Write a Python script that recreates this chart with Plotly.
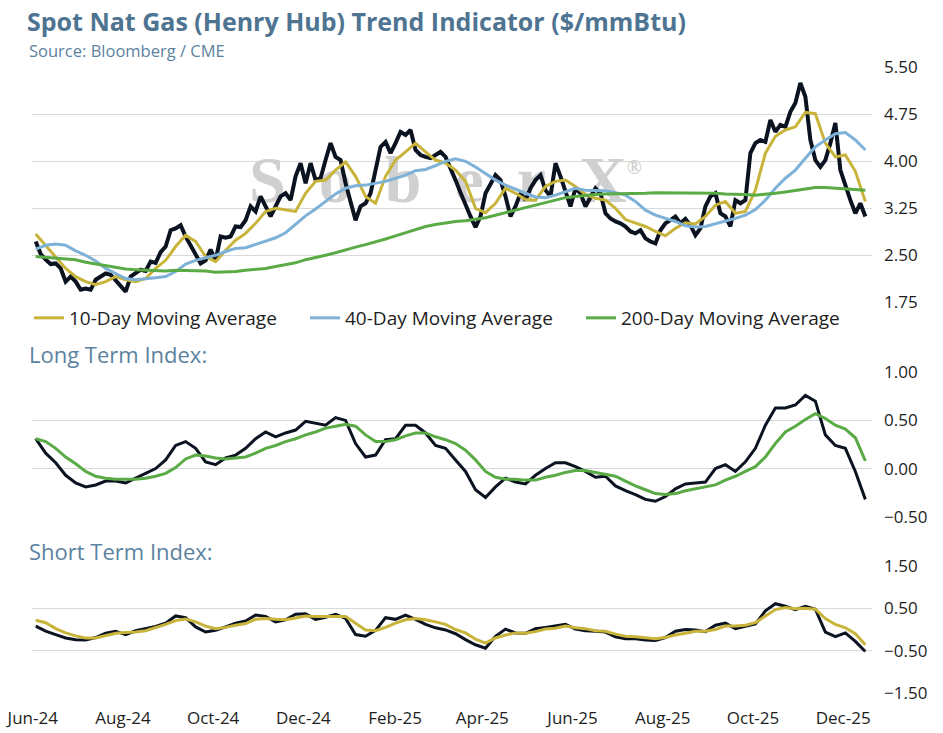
import plotly.graph_objects as go
import pandas as pd

# spot price (about every 3.4 days)
price = [
    2.72, 2.52, 2.43, 2.36, 2.37, 2.29, 2.08, 2.16, 2.08, 1.95, 1.97, 1.95, 2.11, 2.16, 2.21, 2.19, 2.10, 1.99, 1.92, 2.16,
    2.21, 2.27, 2.25, 2.40, 2.38, 2.55, 2.64, 2.90, 2.93, 2.98, 2.80, 2.66, 2.50, 2.37, 2.42, 2.59, 2.42, 2.80, 2.78, 2.80,
    2.96, 2.95,
    3.06, 3.28, 3.20, 3.44, 3.28, 3.12, 3.28, 3.44, 3.49, 3.38, 3.76, 3.97, 3.65, 3.97, 3.70, 3.73, 4.02, 4.29, 4.07, 4.02,
    3.65, 3.33, 3.06, 3.28, 3.33, 3.49, 3.86, 4.23, 4.31, 4.13, 4.29, 4.47, 4.42, 4.50, 4.18, 4.10, 4.07, 4.05, 4.10, 4.15,
    4.07, 3.90, 3.70, 3.50,
    3.30, 3.12, 2.95, 3.12, 3.49, 3.65, 3.78, 3.70, 3.44, 3.12, 3.28, 3.49, 3.38, 3.57, 3.70, 3.78, 3.54, 3.44, 3.97, 3.76,
    3.52, 3.28, 3.57, 3.49, 3.28, 3.44, 3.57, 3.49, 3.17, 3.09, 3.04, 3.01, 2.96, 2.88, 2.85, 2.90, 2.77, 2.72, 2.69, 2.90,
    3.01, 3.06, 3.12, 3.01,
    3.08, 2.98, 2.82, 2.93, 3.28, 3.44, 3.49, 3.17, 3.12, 2.96, 3.38, 3.33, 3.38, 4.13, 4.29, 4.34, 4.31, 4.66, 4.47, 4.58,
    4.55, 4.79, 4.93, 5.25, 5.03, 4.34, 4.02, 3.91, 4.02, 4.29, 4.61, 3.86, 3.60, 3.38, 3.17, 3.33, 3.12,
]

# moving averages and indices (about weekly)
ma10 = [
    2.84, 2.66, 2.48, 2.29, 2.16, 2.08, 2.03, 2.08, 2.16, 2.11, 2.08, 2.13, 2.29, 2.42, 2.64, 2.82, 2.72, 2.48, 2.40, 2.58, 2.74,
    2.85, 3.01, 3.20, 3.25, 3.22, 3.20, 3.49, 3.68, 3.70, 3.86, 3.99, 3.76, 3.44, 3.33, 3.76, 4.02, 4.15, 4.29, 4.15, 4.02, 3.97, 3.86,
    3.68, 3.25, 3.18, 3.33, 3.57, 3.49, 3.39, 3.38, 3.60, 3.68, 3.70, 3.60, 3.47, 3.41, 3.38, 3.25, 3.07, 3.01, 2.96, 2.88, 2.81, 2.93,
    3.02, 3.00, 3.12, 3.30, 3.36, 3.17, 3.20, 3.54, 4.13, 4.40, 4.50, 4.55, 4.78, 4.76, 4.29, 4.07, 4.10, 3.84, 3.36,
]
ma40 = [
    2.60, 2.66, 2.68, 2.66, 2.57, 2.50, 2.41, 2.29, 2.21, 2.13, 2.11, 2.12, 2.14, 2.16, 2.24, 2.36, 2.42, 2.46, 2.50, 2.56, 2.61,
    2.62, 2.67, 2.72, 2.78, 2.86, 3.00, 3.13, 3.24, 3.36, 3.48, 3.57, 3.61, 3.62, 3.65, 3.68, 3.73, 3.78, 3.85, 3.87, 3.93, 4.00, 4.04,
    4.00, 3.91, 3.81, 3.70, 3.62, 3.55, 3.49, 3.43, 3.42, 3.46, 3.52, 3.57, 3.54, 3.53, 3.53, 3.50, 3.46, 3.36, 3.22, 3.14, 3.09, 3.04,
    2.97, 2.95, 2.96, 3.00, 3.04, 3.09, 3.14, 3.23, 3.38, 3.57, 3.73, 3.86, 4.05, 4.23, 4.34, 4.44, 4.46, 4.34, 4.18,
]
ma200 = [
    2.48, 2.47, 2.46, 2.45, 2.43, 2.39, 2.36, 2.34, 2.31, 2.28, 2.27, 2.26, 2.26, 2.25, 2.26, 2.26, 2.25, 2.25, 2.23, 2.23, 2.24,
    2.26, 2.27, 2.29, 2.32, 2.35, 2.38, 2.43, 2.46, 2.50, 2.54, 2.59, 2.63, 2.67, 2.71, 2.76, 2.81, 2.86, 2.91, 2.96, 2.99, 3.02, 3.04,
    3.05, 3.07, 3.10, 3.14, 3.18, 3.22, 3.27, 3.31, 3.35, 3.39, 3.42, 3.44, 3.46, 3.47, 3.48, 3.48, 3.49, 3.49, 3.49, 3.50, 3.50, 3.50,
    3.50, 3.50, 3.49, 3.49, 3.48, 3.48, 3.47, 3.46, 3.47, 3.49, 3.51, 3.53, 3.56, 3.58, 3.58, 3.57, 3.56, 3.55, 3.54,
]
long_idx = [
    0.31, 0.16, 0.06, -0.07, -0.15, -0.19, -0.17, -0.13, -0.13, -0.15, -0.10, -0.05, 0.00, 0.09, 0.24, 0.28, 0.21, 0.07, 0.04, 0.11,
    0.14, 0.21, 0.31, 0.38, 0.33, 0.37, 0.40, 0.49, 0.47, 0.45, 0.53, 0.50, 0.26, 0.12, 0.14, 0.30, 0.31, 0.45, 0.45, 0.37, 0.24, 0.21,
    0.09, -0.03, -0.22, -0.30, -0.19, -0.10, -0.14, -0.16, -0.07, 0.00, 0.06, 0.06, 0.02, -0.03, -0.09, -0.08, -0.18, -0.23, -0.27, -0.32,
    -0.34, -0.29, -0.21, -0.16, -0.15, -0.14, 0.00, 0.04, -0.03, 0.07, 0.21, 0.45, 0.63, 0.63, 0.66, 0.76, 0.70, 0.35, 0.24, 0.21, -0.03, -0.32,
]
long_sig = [
    0.31, 0.28, 0.21, 0.12, 0.05, -0.03, -0.08, -0.10, -0.11, -0.11, -0.11, -0.10, -0.08, -0.05, 0.01, 0.10, 0.14, 0.13, 0.11, 0.10,
    0.11, 0.12, 0.16, 0.21, 0.24, 0.28, 0.31, 0.35, 0.38, 0.42, 0.44, 0.46, 0.44, 0.35, 0.28, 0.28, 0.30, 0.34, 0.37, 0.37, 0.33, 0.30,
    0.26, 0.19, 0.09, -0.03, -0.09, -0.11, -0.11, -0.12, -0.12, -0.09, -0.07, -0.04, -0.02, -0.02, -0.04, -0.06, -0.08, -0.13, -0.18, -0.22,
    -0.26, -0.27, -0.26, -0.23, -0.21, -0.19, -0.17, -0.12, -0.08, -0.03, 0.02, 0.12, 0.26, 0.38, 0.44, 0.51, 0.57, 0.52, 0.45, 0.41, 0.32, 0.08,
]
short_idx = [
    0.08, -0.04, -0.12, -0.20, -0.24, -0.25, -0.19, -0.09, -0.04, -0.12, -0.03, 0.02, 0.07, 0.15, 0.32, 0.28, 0.06, -0.06, -0.02, 0.06,
    0.15, 0.20, 0.34, 0.31, 0.18, 0.23, 0.36, 0.37, 0.24, 0.29, 0.36, 0.26, -0.12, -0.16, -0.02, 0.28, 0.24, 0.34, 0.24, 0.12, 0.04, -0.01,
    -0.10, -0.24, -0.36, -0.44, -0.16, 0.01, -0.08, -0.09, 0.02, 0.05, 0.08, 0.12, 0.01, -0.03, -0.04, -0.06, -0.17, -0.22, -0.22, -0.25,
    -0.26, -0.19, -0.04, 0.00, -0.01, -0.05, 0.10, 0.15, 0.02, 0.08, 0.13, 0.44, 0.61, 0.55, 0.47, 0.55, 0.48, -0.06, -0.17, -0.08, -0.28, -0.52,
]
short_sig = [
    0.22, 0.16, 0.02, -0.08, -0.15, -0.20, -0.20, -0.14, -0.09, -0.07, -0.06, -0.03, 0.04, 0.12, 0.21, 0.25, 0.18, 0.08, 0.02, 0.05,
    0.10, 0.14, 0.24, 0.26, 0.24, 0.23, 0.27, 0.32, 0.31, 0.31, 0.32, 0.31, 0.15, -0.01, -0.03, 0.05, 0.15, 0.23, 0.26, 0.23, 0.18, 0.12,
    0.00, -0.08, -0.23, -0.32, -0.20, -0.13, -0.08, -0.09, -0.05, 0.01, 0.03, 0.08, 0.04, 0.02, -0.03, -0.04, -0.11, -0.16, -0.17, -0.20,
    -0.22, -0.19, -0.13, -0.09, -0.04, -0.04, 0.00, 0.08, 0.08, 0.10, 0.16, 0.32, 0.47, 0.52, 0.49, 0.50, 0.48, 0.26, 0.12, 0.04, -0.10, -0.36,
]

start, end = "2024-06-03", "2025-12-16"
d_price = pd.date_range(start, end, periods=len(price))
d_week = pd.date_range(start, end, periods=len(ma10))

BLACK = '#0b1320'
YELLOW = '#c8b43a'
BLUE = '#7eb1d8'
GREEN = '#5aab45'
SLATE = '#4e7491'
LABEL = '#5b82a0'
FONT = 'Open Sans'

fig = go.Figure()

# faint watermark behind the lines
nb = '\u00a0\u00a0'
wm = nb.join('SoberX') + '<sup><span style="font-size:20px">®</span></sup>'
fig.add_trace(go.Scatter(
    x=[pd.Timestamp("2025-03-07")], y=[3.62], mode='text',
    text=['<b>' + wm + '</b>'],
    textfont=dict(family='Liberation Serif', size=66, color='#d0d0d0'),
    showlegend=False, hoverinfo='skip', xaxis='x', yaxis='y'))

fig.add_trace(go.Scatter(x=d_price, y=price, mode='lines', line=dict(color=BLACK, width=4),
                         showlegend=False, xaxis='x', yaxis='y'))
fig.add_trace(go.Scatter(x=d_week, y=ma10, mode='lines', name='10-Day Moving Average',
                         line=dict(color=YELLOW, width=3), xaxis='x', yaxis='y'))
fig.add_trace(go.Scatter(x=d_week, y=ma40, mode='lines', name='40-Day Moving Average',
                         line=dict(color=BLUE, width=3), xaxis='x', yaxis='y'))
fig.add_trace(go.Scatter(x=d_week, y=ma200, mode='lines', name='200-Day Moving Average',
                         line=dict(color=GREEN, width=3), xaxis='x', yaxis='y'))

fig.add_trace(go.Scatter(x=d_week, y=long_idx, mode='lines', line=dict(color=BLACK, width=3),
                         showlegend=False, xaxis='x2', yaxis='y2'))
fig.add_trace(go.Scatter(x=d_week, y=long_sig, mode='lines', line=dict(color=GREEN, width=3),
                         showlegend=False, xaxis='x2', yaxis='y2'))

fig.add_trace(go.Scatter(x=d_week, y=short_idx, mode='lines', line=dict(color=BLACK, width=3),
                         showlegend=False, xaxis='x3', yaxis='y3'))
fig.add_trace(go.Scatter(x=d_week, y=short_sig, mode='lines', line=dict(color=YELLOW, width=3),
                         showlegend=False, xaxis='x3', yaxis='y3'))

xdom = [32 / 943, 872 / 943]
xrange = ["2024-05-31 12:00", "2025-12-20 12:00"]
xcommon = dict(domain=xdom, range=xrange, showgrid=False, zeroline=False, showline=False, automargin=False)
ycommon = dict(side='right', showgrid=True, gridcolor='#d9d9d9', gridwidth=1, zeroline=False,
               showline=False, tickformat='.2f', ticklabelstandoff=11, automargin=False,
               tickfont=dict(family=FONT, size=17, color='#1e1e1e'))

fig.update_layout(
    width=943, height=733,
    margin=dict(l=0, r=0, t=0, b=0, autoexpand=False),
    paper_bgcolor='white', plot_bgcolor='white',
    font=dict(family=FONT),
    xaxis=dict(anchor='y', showticklabels=False, **xcommon),
    xaxis2=dict(anchor='y2', showticklabels=False, **xcommon),
    xaxis3=dict(anchor='y3', tickformat='%b-%y', dtick='M2', tick0='2024-06-01',
                ticklabelstandoff=13, tickfont=dict(family=FONT, size=17, color='#1e1e1e'), **xcommon),
    yaxis=dict(anchor='x', domain=[1 - 302.3 / 733, 1 - 67.3 / 733], range=[1.75, 5.50],
               tick0=1.75, dtick=0.75, **ycommon),
    yaxis2=dict(anchor='x2', domain=[1 - 516.7 / 733, 1 - 372.3 / 733], range=[-0.5, 1.0],
                tick0=-0.5, dtick=0.5, **ycommon),
    yaxis3=dict(anchor='x3', domain=[1 - 693 / 733, 1 - 566 / 733], range=[-1.5, 1.5],
                tick0=-1.5, dtick=1.0, **ycommon),
    legend=dict(orientation='h', x=29 / 943, xanchor='left', y=1 - 318 / 733, yanchor='middle',
                font=dict(family=FONT, size=19, color='#1e1e1e'), bgcolor='rgba(0,0,0,0)',
                entrywidth=231, entrywidthmode='pixels'),
    annotations=[
        dict(text='<b>Spot Nat Gas (Henry Hub) Trend Indicator ($/mmBtu)</b>', x=25 / 943, y=1 - 21 / 733,
             xref='paper', yref='paper', xanchor='left', yanchor='middle', showarrow=False,
             font=dict(family=FONT, size=25, color=SLATE)),
        dict(text='Source: Bloomberg / CME', x=27 / 943, y=1 - 50 / 733,
             xref='paper', yref='paper', xanchor='left', yanchor='middle', showarrow=False,
             font=dict(family=FONT, size=16.5, color=LABEL)),
        dict(text='Long Term Index:', x=27 / 943, y=1 - 354 / 733,
             xref='paper', yref='paper', xanchor='left', yanchor='middle', showarrow=False,
             font=dict(family=FONT, size=22, color=LABEL)),
        dict(text='Short Term Index:', x=27 / 943, y=1 - 551 / 733,
             xref='paper', yref='paper', xanchor='left', yanchor='middle', showarrow=False,
             font=dict(family=FONT, size=22, color=LABEL)),
    ],
)

# drop the browser's default page margin so the figure sits at the window's corner
fig.write_html("out.html", config={'displayModeBar': False},
               post_script="document.body.style.margin='0';")
